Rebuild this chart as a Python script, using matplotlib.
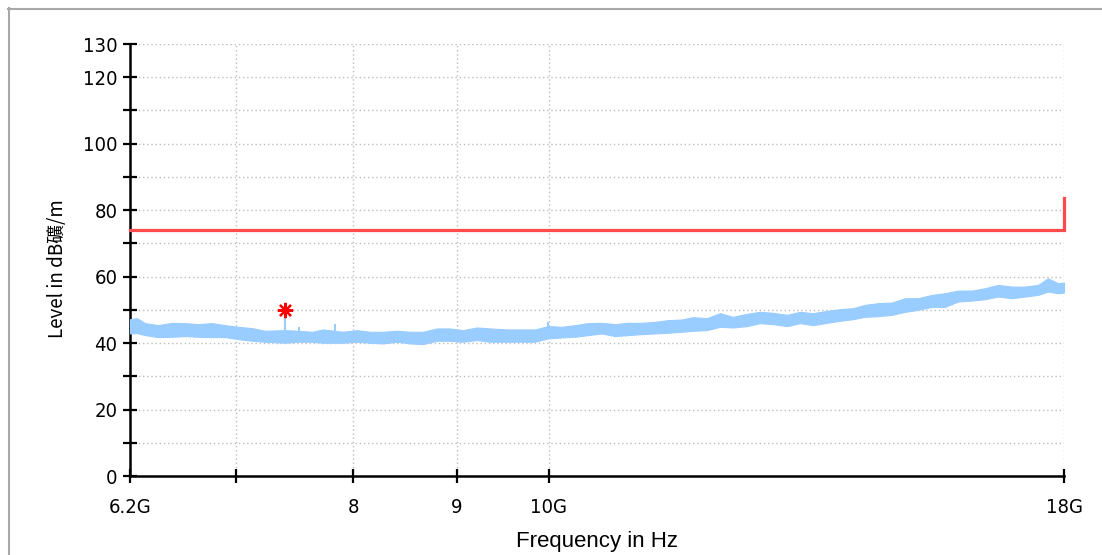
import matplotlib
matplotlib.use("Agg")
import matplotlib.pyplot as plt
from matplotlib.lines import Line2D

# ---------------- data ----------------
freq_ghz = [6.200, 6.250, 6.307, 6.401, 6.505, 6.602, 6.700, 6.808, 6.910, 7.013,
            7.126, 7.233, 7.400, 7.510, 7.631, 7.728, 7.906, 8.033, 8.153, 8.275,
            8.408, 8.533, 8.661, 8.800, 8.932, 9.066, 9.212, 9.349, 9.543, 9.697,
            9.842, 9.989, 10.150, 10.302, 10.456, 10.624, 10.783, 10.944, 11.120, 11.287,
            11.455, 11.640, 11.787, 11.977, 12.156, 12.337, 12.536, 12.723, 12.914, 13.122,
            13.318, 13.517, 13.735, 13.940, 14.148, 14.343, 14.558, 14.792, 15.013, 15.237,
            15.483, 15.714, 15.949, 16.206, 16.448, 16.694, 16.963, 17.216, 17.474, 17.675,
            17.880, 18.000]
level_max = [47.2, 47.5, 46.0, 45.4, 46.1, 46.0, 45.7, 46.0, 45.4, 44.9,
             44.5, 43.7, 43.9, 43.7, 43.4, 44.1, 43.4, 43.9, 43.4, 43.4,
             43.7, 43.4, 43.4, 44.4, 44.4, 43.9, 44.7, 44.4, 44.1, 44.1,
             44.1, 45.1, 44.9, 45.4, 46.0, 46.1, 45.7, 46.1, 46.1, 46.4,
             46.9, 47.1, 47.8, 47.5, 49.0, 47.9, 48.8, 49.4, 49.1, 48.5,
             49.4, 49.0, 49.7, 50.2, 50.5, 51.5, 52.0, 52.2, 53.5, 53.5,
             54.5, 55.0, 55.8, 55.8, 56.5, 57.5, 57.0, 57.0, 57.5, 59.5,
             58.0, 58.2]
level_min = [42.9, 43.0, 42.4, 41.8, 41.9, 42.1, 41.9, 41.8, 41.8, 41.2,
             40.7, 40.4, 40.1, 40.4, 40.4, 40.1, 40.1, 40.4, 40.1, 39.9,
             40.4, 39.9, 39.7, 40.7, 40.7, 40.4, 40.9, 40.4, 40.4, 40.4,
             40.4, 41.4, 41.7, 41.9, 42.4, 42.9, 42.1, 42.4, 42.7, 42.9,
             43.1, 43.4, 43.7, 43.9, 44.9, 44.7, 45.1, 46.0, 45.7, 45.1,
             46.0, 45.4, 46.1, 46.7, 47.2, 47.9, 48.1, 48.5, 49.4, 50.0,
             50.9, 50.9, 52.5, 52.8, 53.2, 54.0, 53.5, 54.0, 54.5, 55.5,
             55.0, 55.2]

spike_freq = [7.40, 7.52, 7.83, 9.99]
spike_base = [42.0, 42.0, 42.0, 43.0]
spike_top = [50.0, 44.9, 45.6, 46.3]

peak_freq = [7.40]
peak_level = [50.0]

limit_freq = [6.2, 18.0, 18.0]
limit_level = [74.0, 74.0, 83.6]

x_ticks = [6.2, 7, 8, 9, 10, 18]
x_ticklabels = ["6.2G", "", "8", "9", "10G", "18G"]
y_ticks = list(range(0, 131, 10))
y_ticklabels = ["0", "", "20", "", "40", "", "60", "", "80", "", "100", "", "120", "130"]

# ---------------- figure ----------------
W, H = 1102, 555
fig = plt.figure(figsize=(W / 100, H / 100), dpi=100)
fig.patch.set_facecolor("white")

# outer light frame (top & left)
fig.add_artist(Line2D([8 / W, 1.0], [1 - 8.5 / H, 1 - 8.5 / H], color="#A8A8A8", lw=1.5,
                      transform=fig.transFigure))
fig.add_artist(Line2D([8.5 / W, 8.5 / W], [0.0, 1 - 8 / H], color="#A8A8A8", lw=1.5,
                      transform=fig.transFigure))

ax = fig.add_axes([130 / W, 79 / H, 934 / W, 432 / H])
ax.set_xscale("log")
ax.set_xlim(6.2, 18.0)
ax.set_ylim(0, 130)

# grid
ax.set_xticks(x_ticks)
ax.set_xticklabels(x_ticklabels)
ax.minorticks_off()
ax.set_yticks(y_ticks)
ax.set_yticklabels(y_ticklabels)
ax.grid(True, which="major", color="#BDBDBD", linestyle=(0, (1, 2)), linewidth=1.0)
ax.set_axisbelow(True)

# trace band
ax.fill_between(freq_ghz, level_min, level_max, color="#99CCFF", linewidth=0.8,
                edgecolor="#99CCFF", zorder=3)
ax.vlines(spike_freq, spike_base, spike_top, color="#99CCFF", linewidth=1.5, zorder=3)

# limit line
ax.plot(limit_freq, limit_level, color="#FF4B4B", linewidth=2.3, zorder=4,
        solid_joinstyle="miter", clip_on=False)

# peak marker
ax.plot(peak_freq, peak_level, linestyle="none", marker=(8, 2, 0), markersize=11,
        markeredgecolor="#FF0000", markeredgewidth=1.6, zorder=5)

# spines
for s in ("top", "right"):
    ax.spines[s].set_visible(False)
for s in ("left", "bottom"):
    ax.spines[s].set_color("black")
    ax.spines[s].set_linewidth(1.8)

ax.tick_params(axis="both", direction="inout", length=10, width=1.6, color="black",
               labelsize=14.5)
ax.tick_params(axis="x", pad=11)
ax.tick_params(axis="y", pad=4)
for lab in ax.get_xticklabels() + ax.get_yticklabels():
    lab.set_family("DejaVu Sans")
    lab.set_stretch("condensed")

ax.set_xlabel("Frequency in Hz", fontsize=16,
              family=["Liberation Sans", "DejaVu Sans"], labelpad=10)
ax.set_ylabel("Level in dB礦/m", fontsize=13.5,
              family=["Noto Sans CJK JP", "DejaVu Sans"])
ax.yaxis.set_label_coords(-0.066, 0.48)

fig.savefig("out.png", dpi=100, facecolor="white")
